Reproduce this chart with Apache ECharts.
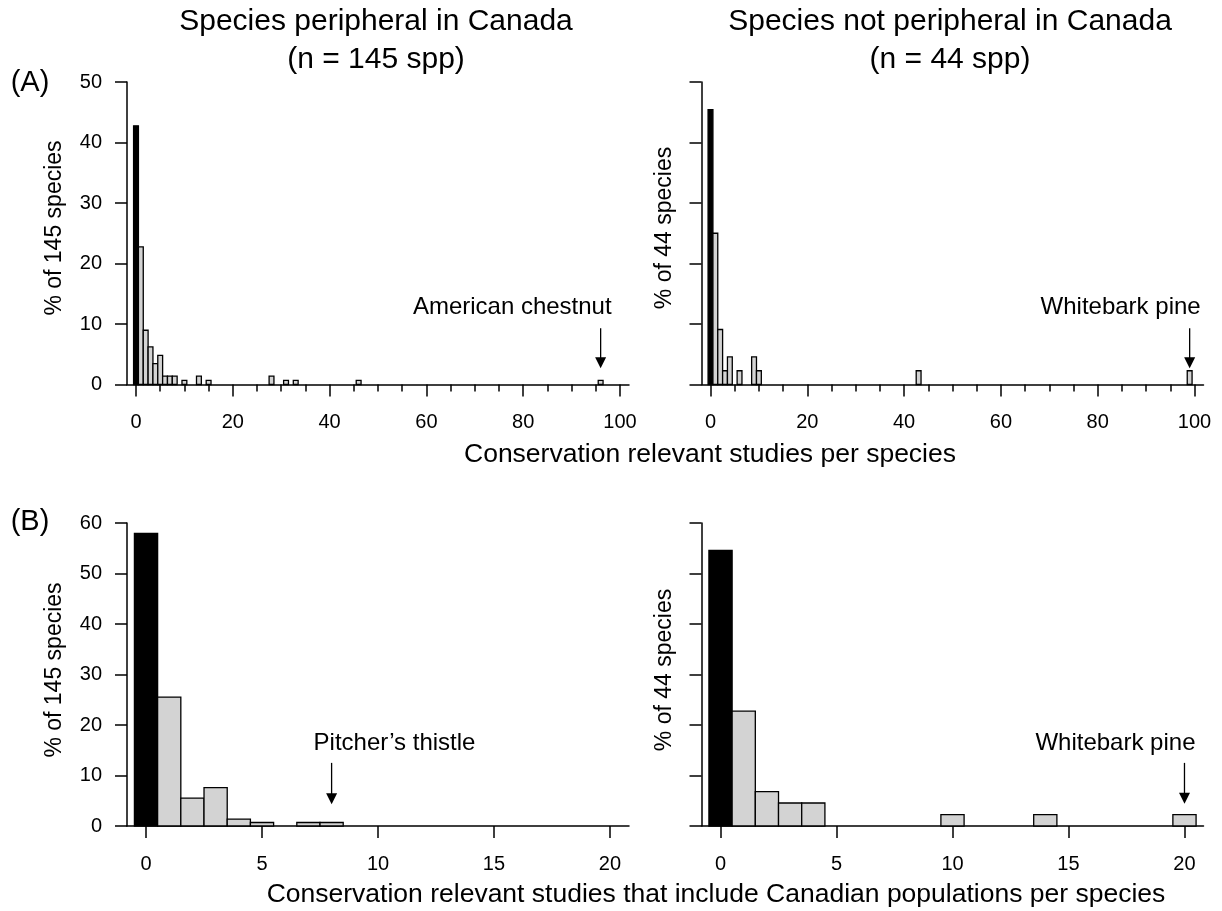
<!DOCTYPE html>
<html>
<head>
<meta charset="utf-8">
<script src="https://cdn.jsdelivr.net/npm/echarts@6/dist/echarts.min.js"></script>
<style>
  html, body { margin: 0; padding: 0; background: #fff; }
  #chart { width: 1222px; height: 911px; }
</style>
</head>
<body>
<div id="chart"></div>
<script>
// (A) all conservation-relevant studies per species: bin value -> % of species
const studiesPeripheral = [0, 1, 2, 3, 4, 5, 6, 7, 8, 10, 13, 15, 28, 31, 33, 46, 96];
const pctPeripheral = [42.76, 22.76, 8.97, 6.21, 3.45, 4.83, 1.38, 1.38, 1.38, 0.69, 1.38, 0.69, 1.38, 0.69, 0.69, 0.69, 0.69];
const studiesNonPeripheral = [0, 1, 2, 3, 4, 6, 9, 10, 43, 99];
const pctNonPeripheral = [45.45, 25.00, 9.09, 2.27, 4.55, 2.27, 4.55, 2.27, 2.27, 2.27];

// (B) studies that include Canadian populations
const canStudiesPeripheral = [0, 1, 2, 3, 4, 5, 7, 8];
const canPctPeripheral = [57.93, 25.52, 5.52, 7.59, 1.38, 0.69, 0.69, 0.69];
const canStudiesNonPeripheral = [0, 1, 2, 3, 4, 10, 14, 20];
const canPctNonPeripheral = [54.55, 22.73, 6.82, 4.55, 4.55, 2.27, 2.27, 2.27];

// axis ticks
const ticksA = [0, 20, 40, 60, 80, 100];
const minorTicksA = [5, 10, 15, 25, 30, 35, 45, 50, 55, 65, 70, 75, 85, 90, 95];
const ticksB = [0, 5, 10, 15, 20];
const yMaxA = 50;
const yMaxB = 60;

// text
const panelTitles = ['Species peripheral in Canada', 'Species not peripheral in Canada'];
const panelCounts = ['(n = 145 spp)', '(n = 44 spp)'];
const yTitles = ['% of 145 species', '% of 44 species'];
const xTitleA = 'Conservation relevant studies per species';
const xTitleB = 'Conservation relevant studies that include Canadian populations per species';

// highlighted species: which panel, its bin, arrow from/to (% axis units)
const calloutNames = ['American chestnut', 'Whitebark pine', 'Pitcher\u2019s thistle', 'Whitebark pine'];
const calloutPanel = [0, 1, 2, 3];
const calloutStudies = [96, 99, 8, 20];
const calloutArrowTop = [9.3, 9.3, 12.5, 12.5];
const calloutArrowTip = [2.7, 2.7, 4.3, 4.4];

const FONT = '"Liberation Sans", Arial, Helvetica, sans-serif';
const INK = '#000';

const chart = echarts.init(document.getElementById('chart'), null, { renderer: 'canvas' });

const gridBoxes = [
  { left: 127, top: 82, width: 502, height: 302.5 },
  { left: 701.5, top: 82, width: 502, height: 302.5 },
  { left: 127, top: 523, width: 502, height: 303 },
  { left: 701.5, top: 523, width: 502, height: 303 }
];

const lineStyle = { color: INK, width: 1.5 };

function mainXAxis(gridIndex, min, max, ticks) {
  return {
    type: 'value', gridIndex, min, max, position: 'bottom',
    axisLine: { show: true, onZero: false, lineStyle },
    axisTick: { show: true, length: 12, lineStyle, customValues: ticks },
    axisLabel: { show: true, customValues: ticks, margin: 28, fontSize: 20, color: INK, fontFamily: FONT },
    splitLine: { show: false }
  };
}

function minorXAxis(gridIndex, min, max, ticks) {
  return {
    type: 'value', gridIndex, min, max, position: 'bottom',
    axisLine: { show: false, onZero: false },
    axisTick: { show: true, length: 7, lineStyle, customValues: ticks },
    axisLabel: { show: false },
    splitLine: { show: false }
  };
}

function yAxisFor(gridIndex, max, labelled) {
  return {
    type: 'value', gridIndex, min: 0, max, interval: 10, position: 'left',
    axisLine: { show: true, onZero: false, lineStyle },
    axisTick: { show: true, length: 12, lineStyle },
    axisLabel: { show: labelled, margin: 25, fontSize: 20, color: INK, fontFamily: FONT },
    splitLine: { show: false }
  };
}

// one histogram bin per data item, one unit wide, centred on its value
function renderBin(params, api) {
  const x = api.value(0);
  const y = api.value(1);
  const tl = api.coord([x - 0.5, y]);
  const br = api.coord([x + 0.5, 0]);
  return {
    type: 'rect',
    shape: { x: tl[0], y: tl[1], width: br[0] - tl[0], height: br[1] - tl[1] },
    style: { fill: x === 0 ? '#000' : '#d3d3d3', stroke: INK, lineWidth: 1.3 }
  };
}

function histSeries(xAxisIndex, yAxisIndex, xs, ys) {
  return {
    type: 'custom', xAxisIndex, yAxisIndex, clip: false,
    data: xs.map((x, i) => [x, ys[i]]),
    renderItem: renderBin
  };
}

function text(x, y, str, size, align, extra) {
  return Object.assign({
    type: 'text', x, y, silent: true,
    style: {
      text: str, fontSize: size, fontFamily: FONT, fill: INK,
      align, textAlign: align, verticalAlign: 'middle', textVerticalAlign: 'middle'
    }
  }, extra || {});
}

const option = {
  backgroundColor: '#fff',
  animation: false,
  grid: gridBoxes.map(b => Object.assign({ containLabel: false, outerBoundsMode: 'none' }, b)),
  xAxis: [
    mainXAxis(0, -1.86, 101.86, ticksA),
    mainXAxis(1, -1.86, 101.86, ticksA),
    mainXAxis(2, -0.82, 20.82, ticksB),
    mainXAxis(3, -0.82, 20.82, ticksB),
    minorXAxis(0, -1.86, 101.86, minorTicksA),
    minorXAxis(1, -1.86, 101.86, minorTicksA)
  ],
  yAxis: [
    yAxisFor(0, yMaxA, true),
    yAxisFor(1, yMaxA, false),
    yAxisFor(2, yMaxB, true),
    yAxisFor(3, yMaxB, false)
  ],
  series: [
    histSeries(0, 0, studiesPeripheral, pctPeripheral),
    histSeries(1, 1, studiesNonPeripheral, pctNonPeripheral),
    histSeries(2, 2, canStudiesPeripheral, canPctPeripheral),
    histSeries(3, 3, canStudiesNonPeripheral, canPctNonPeripheral)
  ]
};

chart.setOption(option);

const graphics = [
  text(376, 22, panelTitles[0], 30, 'center'),
  text(376, 60, panelCounts[0], 30, 'center'),
  text(950, 22, panelTitles[1], 30, 'center'),
  text(950, 60, panelCounts[1], 30, 'center'),
  text(30, 83, '(A)', 29, 'center'),
  text(30, 522, '(B)', 29, 'center'),
  text(710, 455, xTitleA, 26.5, 'center'),
  text(716, 895, xTitleB, 26.5, 'center'),
  text(55, 228, yTitles[0], 23, 'center', { rotation: Math.PI / 2 }),
  text(665, 228, yTitles[1], 23, 'center', { rotation: Math.PI / 2 }),
  text(55, 670, yTitles[0], 23, 'center', { rotation: Math.PI / 2 }),
  text(665, 670, yTitles[1], 23, 'center', { rotation: Math.PI / 2 })
];

// callout arrows and names, anchored on the data through each series' axes
const calloutAlign = ['right', 'right', 'left', 'right'];
const calloutDx = [11, 11, -18, 11];
const calloutDy = [-21, -21, -20, -20];
calloutNames.forEach((name, i) => {
  const s = calloutPanel[i];
  const top = chart.convertToPixel({ seriesIndex: s }, [calloutStudies[i], calloutArrowTop[i]]);
  const tip = chart.convertToPixel({ seriesIndex: s }, [calloutStudies[i], calloutArrowTip[i]]);
  const head = 11;
  graphics.push({
    type: 'line', silent: true,
    shape: { x1: top[0], y1: top[1], x2: tip[0], y2: tip[1] - head + 1 },
    style: { stroke: INK, lineWidth: 1.3 }
  });
  graphics.push({
    type: 'polygon', silent: true,
    shape: { points: [[tip[0] - 5.5, tip[1] - head], [tip[0] + 5.5, tip[1] - head], [tip[0], tip[1]]] },
    style: { fill: INK }
  });
  graphics.push(text(top[0] + calloutDx[i], top[1] + calloutDy[i], name, 24, calloutAlign[i]));
});

chart.setOption({ graphic: { elements: graphics } });
</script>
</body>
</html>
